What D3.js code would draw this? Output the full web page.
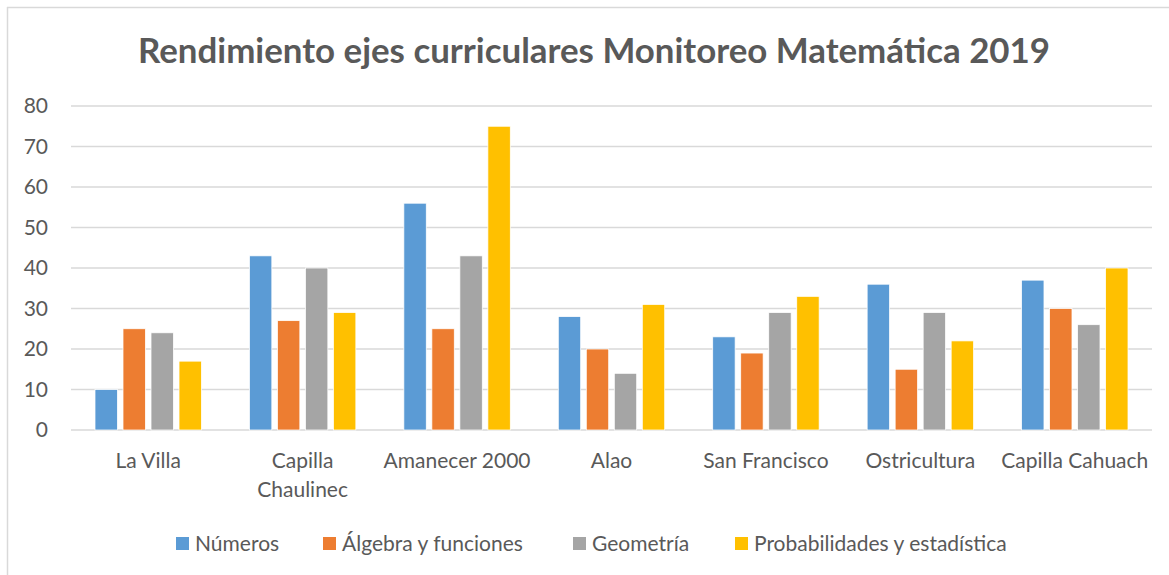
<!DOCTYPE html>
<html>
<head>
<meta charset="utf-8">
<script src="https://cdn.jsdelivr.net/npm/d3@7"></script>
<style>
  body { margin: 0; background: #fff; }
  text { font-family: Lato, "Open Sans", sans-serif; fill: #595959; }
</style>
</head>
<body>
<svg id="chart" width="1169" height="575"></svg>
<script>
var categories = ['La Villa', 'Capilla Chaulinec', 'Amanecer 2000', 'Alao', 'San Francisco', 'Ostricultura', 'Capilla Cahuach'];
var seriesNames = ['Números', 'Álgebra y funciones', 'Geometría', 'Probabilidades y estadística'];
var numeros = [10, 43, 56, 28, 23, 36, 37];
var algebra = [25, 27, 25, 20, 19, 15, 30];
var geometria = [24, 40, 43, 14, 29, 29, 26];
var probabilidades = [17, 29, 75, 31, 33, 22, 40];
var yTicks = [0, 10, 20, 30, 40, 50, 60, 70, 80];
var colors = ['#5b9bd5', '#ed7d31', '#a5a5a5', '#ffc000'];

var series = [numeros, algebra, geometria, probabilidades];

var svg = d3.select('#chart');
var plotLeft = 71, plotRight = 1152, plotTop = 106, plotBottom = 430;
var labelSize = '21px';

// chart border (top and left only visible)
svg.append('line').attr('x1', 7).attr('y1', 7.5).attr('x2', 1169).attr('y2', 7.5)
  .style('stroke', '#d9d9d9').style('stroke-width', 1.5);
svg.append('line').attr('x1', 7.5).attr('y1', 7).attr('x2', 7.5).attr('y2', 575)
  .style('stroke', '#d9d9d9').style('stroke-width', 1.5);

svg.append('text')
  .attr('x', 594).attr('y', 63)
  .attr('text-anchor', 'middle')
  .attr('textLength', 912).attr('lengthAdjust', 'spacingAndGlyphs')
  .style('font-size', '34px').style('font-weight', 'bold')
  .text('Rendimiento ejes curriculares Monitoreo Matemática 2019');

var y = d3.scaleLinear().domain([0, 80]).range([plotBottom, plotTop]);
var x0 = d3.scaleBand().domain(categories).range([plotLeft, plotRight]).paddingInner(0).paddingOuter(0);
var x1 = d3.scaleBand().domain(d3.range(series.length)).range([24, x0.bandwidth() - 24]).paddingInner(0.2);

// gridlines
svg.append('g').selectAll('line').data(yTicks).enter().append('line')
  .attr('x1', plotLeft).attr('x2', plotRight)
  .attr('y1', function(d) { return y(d); }).attr('y2', function(d) { return y(d); })
  .style('stroke', '#d9d9d9').style('stroke-width', 1.5);

// y axis labels
var yAxis = svg.append('g').attr('transform', 'translate(' + plotLeft + ',0)')
  .call(d3.axisLeft(y).tickValues(yTicks).tickSize(0).tickPadding(23));
yAxis.select('.domain').remove();
yAxis.selectAll('text').style('font-size', labelSize).style('font-family', 'Lato, sans-serif').attr('fill', '#595959');

// bars
var groups = svg.append('g').selectAll('g').data(categories).enter().append('g')
  .attr('transform', function(d) { return 'translate(' + x0(d) + ',0)'; });

groups.selectAll('rect')
  .data(function(d, i) { return series.map(function(s, k) { return { k: k, v: s[i] }; }); })
  .enter().append('rect')
  .attr('x', function(d) { return x1(d.k); })
  .attr('y', function(d) { return y(d.v); })
  .attr('width', x1.bandwidth())
  .attr('height', function(d) { return plotBottom - y(d.v); })
  .attr('fill', function(d) { return colors[d.k]; })
  .style('stroke', '#fff').style('stroke-width', 0.75);

// category labels
var wrapped = { 'Capilla Chaulinec': ['Capilla', 'Chaulinec'] };
var catLabels = svg.append('g').selectAll('text').data(categories).enter().append('text')
  .attr('x', function(d) { return x0(d) + x0.bandwidth() / 2; })
  .attr('y', 468)
  .attr('text-anchor', 'middle')
  .style('font-size', labelSize);
catLabels.each(function(d) {
  var lines = wrapped[d] || [d];
  var t = d3.select(this);
  lines.forEach(function(l, i) {
    t.append('tspan').attr('x', x0(d) + x0.bandwidth() / 2).attr('dy', i === 0 ? 0 : 29).text(l);
  });
});

// legend
var legendX = [176, 323, 573, 735];
var legend = svg.append('g').selectAll('g').data(seriesNames).enter().append('g')
  .attr('transform', function(d, i) { return 'translate(' + legendX[i] + ',537)'; });
legend.append('rect').attr('width', 13).attr('height', 13)
  .attr('fill', function(d, i) { return colors[i]; });
legend.append('text').attr('x', 19).attr('y', 14)
  .style('font-size', labelSize)
  .text(function(d) { return d; });
</script>
</body>
</html>
